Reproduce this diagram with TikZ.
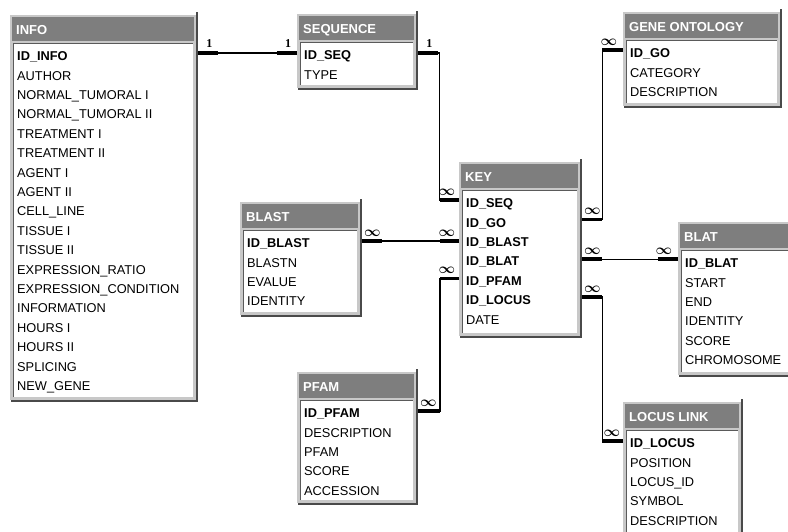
\documentclass[tikz,border=0pt]{standalone}
\usepackage{fontspec}
\setmainfont{Liberation Sans}
\newfontfamily\numfont{Liberation Serif}
\usetikzlibrary{calc}
\definecolor{framec}{HTML}{C8C8C8}
\definecolor{headc}{HTML}{7E7E7E}
\definecolor{shadc}{HTML}{4A4A4A}
\definecolor{innerc}{HTML}{5A5A5A}
\tikzset{
  field/.style={anchor=west, inner sep=0pt, font=\fontsize{12.8}{13}\selectfont, text height=9.3pt, text depth=0pt},
  keyfield/.style={field, font=\fontsize{12.8}{13}\selectfont\bfseries},
  titletext/.style={anchor=west, inner sep=0pt, text=white, font=\fontsize{13}{13}\selectfont\bfseries, text height=9.3pt, text depth=0pt},
  rel/.style={line width=1.2pt, black},
  stub/.style={line width=3.5pt, black},
  one/.style={font=\numfont\bfseries\fontsize{12}{12}\selectfont, inner sep=0pt},
  many/.style={font=\fontsize{14}{14}\selectfont\boldmath, inner sep=0pt},
}
% #1 name, #2 x1, #3 y1, #4 x2, #5 y2, #6 title, #7 key field, #8 other fields
\newcommand\dbbox[8]{%
  \node[inner sep=0pt, minimum width={#4-#2}, minimum height={#5-#3}, anchor=north west] (#1) at (#2,#3) {};
  \fill[framec] (#2,#3) rectangle (#4-2,#5-2);
  \fill[shadc] (#4-2,#3-3) rectangle (#4,#5);
  \fill[shadc] (#2+1,#5-2) rectangle (#4,#5);
  \fill[headc] (#2+2,#3+2) rectangle (#4-4,#3+26);
  \fill[white] (#2+3,#3+28) rectangle (#4-5,#5-5);
  \draw[innerc, line width=1pt] (#2+3.5,#5-5) |- (#4-5,#3+28.5);
  \node[titletext] (#1-t) at (#2+6,#3+15) {#6};
  \node[keyfield] (#1-1) at (#2+7,#3+41) {#7};
  \foreach \f [count=\i from 2] in {#8} {
    \node[field] (#1-\i) at ({#2+7},{#3+41+19.4*(\i-1)}) {\f};
  }
}
\begin{document}
\begin{tikzpicture}[x=1pt,y=-1pt]
\path[use as bounding box] (0,0) rectangle (788,531);
\clip (0,0) rectangle (788,531);
\fill[white] (0,0) rectangle (788,531);

\dbbox{info}{10}{15}{198}{402}{INFO}{ID\_INFO}{AUTHOR,NORMAL\_TUMORAL I,NORMAL\_TUMORAL II,TREATMENT I,TREATMENT II,AGENT I,AGENT II,CELL\_LINE,TISSUE I,TISSUE II,EXPRESSION\_RATIO,EXPRESSION\_CONDITION,INFORMATION,HOURS I,HOURS II,SPLICING,NEW\_GENE}
\dbbox{seq}{297}{14}{418}{90}{SEQUENCE}{ID\_SEQ}{TYPE}
\dbbox{go}{623}{12}{782}{108}{GENE ONTOLOGY}{ID\_GO}{CATEGORY,DESCRIPTION}
\dbbox{key}{459}{162}{582}{338}{KEY}{ID\_SEQ}{\bfseries ID\_GO,\bfseries ID\_BLAST,\bfseries ID\_BLAT,\bfseries ID\_PFAM,\bfseries ID\_LOCUS,DATE}
\dbbox{blast}{240}{202}{362}{317}{BLAST}{ID\_BLAST}{BLASTN,EVALUE,IDENTITY}
\dbbox{blat}{678}{222}{794}{377}{BLAT}{ID\_BLAT}{START,END,IDENTITY,SCORE,CHROMOSOME}
\dbbox{pfam}{297}{372}{418}{505}{PFAM}{ID\_PFAM}{DESCRIPTION,PFAM,SCORE,ACCESSION}
\dbbox{locus}{623}{402}{743}{545}{LOCUS LINK}{ID\_LOCUS}{POSITION,LOCUS\_ID,SYMBOL,DESCRIPTION}

% INFO -- SEQUENCE
\coordinate (p1) at ($(info.east |- info-1)+(0,-3)$);
\coordinate (p2) at (seq.west |- p1);
\draw[rel] (p1) -- (p2);
\draw[stub] (p1) -- ++(20,0);
\draw[stub] (p2) -- ++(-20,0);
\node[one] at ($(p1)+(11,-9)$) {1};
\node[one] at ($(p2)+(-9,-9)$) {1};

% SEQUENCE -- KEY
\coordinate (q1) at ($(seq.east |- seq-1)+(0,-2)$);
\coordinate (q2) at ($(key.west |- key-1)+(0,-3)$);
\draw[rel] (q1) -- ++(21,0) |- (q2);
\draw[stub] (q1) -- ++(20,0);
\draw[stub] (q2) -- ++(-19,0);
\node[one] at ($(q1)+(11,-9)$) {1};
\node[many] at ($(q2)+(-12,-8)$) {$\infty$};

% BLAST -- KEY
\coordinate (r1) at ($(blast.east |- blast-1)+(0,-2)$);
\coordinate (r2) at (key.west |- r1);
\draw[rel] (r1) -- (r2);
\draw[stub] (r1) -- ++(20,0);
\draw[stub] (r2) -- ++(-19,0);
\node[many] at ($(r1)+(10,-8)$) {$\infty$};
\node[many] at ($(r2)+(-12,-8)$) {$\infty$};

% KEY -- GENE ONTOLOGY
\coordinate (s1) at ($(key.east |- key-2)+(0,-3)$);
\coordinate (s2) at ($(go.west |- go-1)+(0,-3)$);
\draw[rel] (s1) -- ++(20,0) |- (s2);
\draw[stub] (s1) -- ++(20,0);
\draw[stub] (s2) -- ++(-21,0);
\node[many] at ($(s1)+(10,-8)$) {$\infty$};
\node[many] at ($(s2)+(-14,-8)$) {$\infty$};

% KEY -- BLAT
\coordinate (t1) at ($(key.east |- key-4)+(0,-2)$);
\coordinate (t2) at (blat.west |- t1);
\draw[rel] (t1) -- (t2);
\draw[stub] (t1) -- ++(20,0);
\draw[stub] (t2) -- ++(-20,0);
\node[many] at ($(t1)+(10,-8)$) {$\infty$};
\node[many] at ($(t2)+(-14,-8)$) {$\infty$};

% KEY -- LOCUS LINK
\coordinate (u1) at ($(key.east |- key-6)+(0,-3)$);
\coordinate (u2) at ($(locus.west |- locus-1)+(0,-2)$);
\draw[rel] (u1) -- ++(20,0) |- (u2);
\draw[stub] (u1) -- ++(20,0);
\draw[stub] (u2) -- ++(-21,0);
\node[many] at ($(u1)+(10,-8)$) {$\infty$};
\node[many] at ($(u2)+(-11,-8)$) {$\infty$};

% KEY -- PFAM
\coordinate (v1) at ($(key.west |- key-5)+(0,-2)$);
\coordinate (v2) at ($(pfam.east |- pfam-1)+(0,-2)$);
\draw[rel] (v1) -- ++(-19,0) |- (v2);
\draw[stub] (v1) -- ++(-19,0);
\draw[stub] (v2) -- ++(22,0);
\node[many] at ($(v1)+(-12,-8)$) {$\infty$};
\node[many] at ($(v2)+(10,-8)$) {$\infty$};
\end{tikzpicture}
\end{document}
